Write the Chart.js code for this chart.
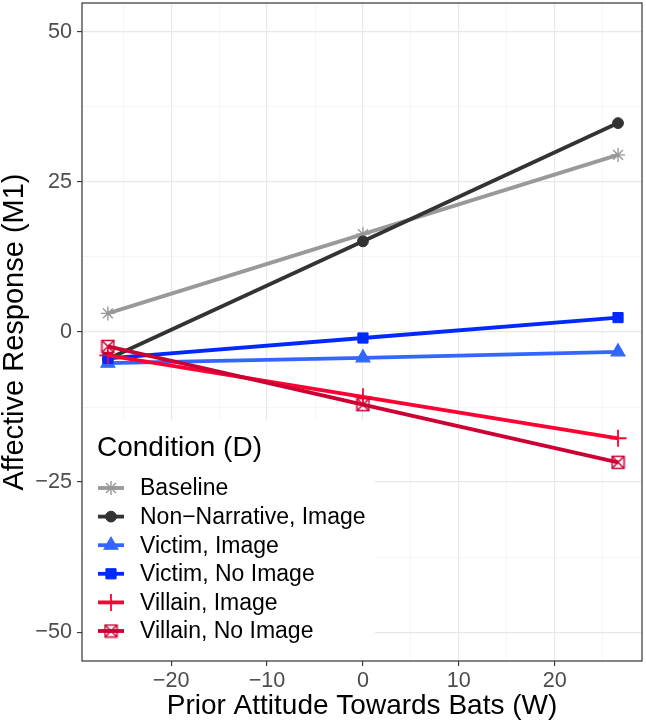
<!DOCTYPE html>
<html>
<head>
<meta charset="utf-8">
<script src="https://cdn.jsdelivr.net/npm/chart.js@4/dist/chart.umd.min.js"></script>
<style>
  html, body { margin: 0; padding: 0; background: #fff; }
  #wrap { width: 646px; height: 725px; }
</style>
</head>
<body>
<div id="wrap"><canvas id="chart" width="646" height="725"></canvas></div>
<script>
// ── Data ─────────────────────────────────────────────────────
const attitude = [-26.6, 0, 26.6];
const baseline = [3.1, 16.3, 29.5];
const nonNarrativeImage = [-4.5, 15.1, 34.8];
const victimImage = [-5.2, -4.3, -3.3];
const victimNoImage = [-4.4, -1.0, 2.4];
const villainImage = [-3.9, -10.8, -17.7];
const villainNoImage = [-2.4, -12.1, -21.7];

const conditions = [
    "Baseline",
    "Non\u2212Narrative, Image",
    "Victim, Image",
    "Victim, No Image",
    "Villain, Image",
    "Villain, No Image",
];
const seriesValues = [baseline, nonNarrativeImage, victimImage, victimNoImage, villainImage, villainNoImage];

const xTicks = [-25, -20, -15, -10, -5, 0, 5, 10, 15, 20, 25];
const xLabelled = [-20, -10, 0, 10, 20];
const yTicks = [-50, -37.5, -25, -12.5, 0, 12.5, 25, 37.5, 50];
const yLabelled = [-50, -25, 0, 25, 50];

// ── Styles ───────────────────────────────────────────────────
const FONT = "'Liberation Sans', Arial, Helvetica, sans-serif";
const colors = ["#999999", "#333333", "#3366ff", "#0029ff", "#ff0033", "#cc0033"];

function squareCross(color) {
    const c = document.createElement("canvas");
    c.width = 15; c.height = 15;
    const g = c.getContext("2d");
    g.strokeStyle = color;
    g.lineWidth = 1.5;
    g.strokeRect(1.5, 1.5, 12, 12);
    g.beginPath();
    g.moveTo(1.5, 1.5); g.lineTo(13.5, 13.5);
    g.moveTo(13.5, 1.5); g.lineTo(1.5, 13.5);
    g.stroke();
    return c;
}

const markers = [
    { pointStyle: "star", radius: 7, borderWidth: 1.4 },
    { pointStyle: "circle", radius: 5.4, borderWidth: 1 },
    { pointStyle: "triangle", radius: 8, borderWidth: 1.2 },
    { pointStyle: "rect", radius: 7.2, borderWidth: 1 },
    { pointStyle: "cross", radius: 8.5, borderWidth: 1.8 },
    { pointStyle: squareCross(colors[5]), radius: 7.5, borderWidth: 0 },
];

const fmt = v => (v < 0 ? "\u2212" + Math.abs(v) : String(v));
const isMajor = (list, v) => list.some(t => Math.abs(t - v) < 1e-6);

// no extra room for end labels: panel edges are fixed by layout padding
function noPadding(s) {
    s.paddingTop = 0;
    s.paddingBottom = 0;
    s.paddingLeft = 0;
    s.paddingRight = 0;
}

// ── Plugins ──────────────────────────────────────────────────
const insideLegend = {
    id: "insideLegend",
    afterDatasetsDraw(chart) {
        const { ctx, chartArea } = chart;
        ctx.save();
        ctx.fillStyle = "#ffffff";
        ctx.fillRect(chartArea.left + 1, 420, 374 - chartArea.left, chartArea.bottom - 420);

        ctx.fillStyle = "#000000";
        ctx.textBaseline = "middle";
        ctx.textAlign = "left";
        ctx.font = `28px ${FONT}`;
        ctx.fillText("Condition (D)", 97, 448);

        ctx.font = `23px ${FONT}`;
        conditions.forEach((name, i) => {
            const y = 488 + i * 28.6;
            ctx.strokeStyle = colors[i];
            ctx.fillStyle = colors[i];
            ctx.lineWidth = 3.8;
            ctx.beginPath();
            ctx.moveTo(98, y);
            ctx.lineTo(124, y);
            ctx.stroke();
            const m = markers[i];
            ctx.lineWidth = m.borderWidth;
            Chart.helpers.drawPoint(ctx, { pointStyle: m.pointStyle, radius: m.radius, borderWidth: m.borderWidth, rotation: 0 }, 111, y);
            ctx.fillStyle = "#000000";
            ctx.fillText(name, 140, y + 1);
        });
        ctx.restore();
    },
};

const panelBorder = {
    id: "panelBorder",
    afterDraw(chart) {
        const { ctx, chartArea } = chart;
        ctx.save();
        ctx.strokeStyle = "#333333";
        ctx.lineWidth = 1.2;
        ctx.strokeRect(chartArea.left, chartArea.top, chartArea.right - chartArea.left, chartArea.bottom - chartArea.top);
        ctx.restore();
    },
};

// ── Chart ────────────────────────────────────────────────────
const datasets = conditions.map((name, i) => ({
    label: name,
    data: attitude.map((x, j) => ({ x, y: seriesValues[i][j] })),
    showLine: true,
    borderColor: colors[i],
    backgroundColor: colors[i],
    borderWidth: 3.8,
    pointStyle: markers[i].pointStyle,
    pointRadius: markers[i].radius,
    pointBorderWidth: markers[i].borderWidth,
    pointBackgroundColor: colors[i],
    pointBorderColor: colors[i],
    order: conditions.length - i,
}));

new Chart(document.getElementById("chart"), {
    type: "scatter",
    data: { datasets },
    plugins: [insideLegend, panelBorder],
    options: {
        responsive: false,
        devicePixelRatio: 1,
        animation: false,
        layout: { autoPadding: false, padding: { left: 0, right: 4, top: 3, bottom: 0 } },
        plugins: { legend: { display: false }, tooltip: { enabled: false } },
        scales: {
            x: {
                type: "linear",
                min: -29.3,
                max: 29.1,
                afterBuildTicks: s => { s.ticks = xTicks.map(v => ({ value: v })); },
                afterFit: s => { s.height = 64; noPadding(s); },
                border: { display: false },
                grid: {
                    color: c => (isMajor(xLabelled, c.tick.value) ? "#e8e8e8" : "#f2f2f2"),
                    lineWidth: c => (isMajor(xLabelled, c.tick.value) ? 1.2 : 0.7),
                    tickColor: c => (isMajor(xLabelled, c.tick.value) ? "#333333" : "rgba(0,0,0,0)"),
                    tickLength: 5,
                    tickWidth: 1.1,
                },
                ticks: {
                    autoSkip: false,
                    maxRotation: 0,
                    padding: 2,
                    color: "#4d4d4d",
                    font: { family: FONT, size: 21.6 },
                    callback: v => (isMajor(xLabelled, v) ? fmt(v) : ""),
                },
                title: {
                    display: true,
                    text: "Prior Attitude Towards Bats (W)",
                    color: "#000000",
                    font: { family: FONT, size: 28, lineHeight: 1 },
                    padding: { top: 0, bottom: 5 },
                },
            },
            y: {
                type: "linear",
                min: -54.8,
                max: 54.8,
                afterBuildTicks: s => { s.ticks = yTicks.map(v => ({ value: v })); },
                afterFit: s => { s.width = 82; noPadding(s); },
                border: { display: false },
                grid: {
                    color: c => (isMajor(yLabelled, c.tick.value) ? "#e8e8e8" : "#f2f2f2"),
                    lineWidth: c => (isMajor(yLabelled, c.tick.value) ? 1.2 : 0.7),
                    tickColor: c => (isMajor(yLabelled, c.tick.value) ? "#333333" : "rgba(0,0,0,0)"),
                    tickLength: 5,
                    tickWidth: 1.1,
                },
                ticks: {
                    autoSkip: false,
                    padding: 5,
                    color: "#4d4d4d",
                    font: { family: FONT, size: 21.6 },
                    callback: v => (isMajor(yLabelled, v) ? fmt(v) : ""),
                },
                title: {
                    display: true,
                    text: "Affective Response (M1)",
                    color: "#000000",
                    font: { family: FONT, size: 29, lineHeight: 1 },
                    padding: { top: 0, bottom: 0 },
                },
            },
        },
    },
});
</script>
</body>
</html>
